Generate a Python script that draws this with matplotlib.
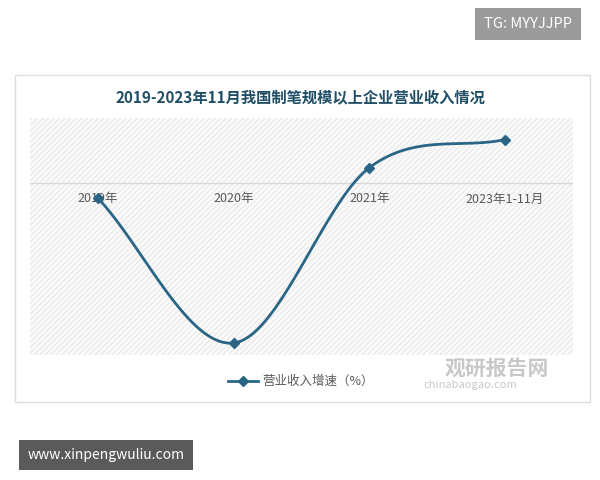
import numpy as np
import matplotlib
matplotlib.use("Agg")
import matplotlib.pyplot as plt
from matplotlib.patches import Rectangle

plt.rcParams['font.family'] = ['Noto Sans CJK SC', 'DejaVu Sans']
plt.rcParams['hatch.linewidth'] = 0.6

categories = ["2019年", "2020年", "2021年", "2023年1-11月"]
growth = [-1.9, -20.0, 1.9, 5.4]
series_name = "营业收入增速（%）"
title = "2019-2023年11月我国制笔规模以上企业营业收入情况"

fig = plt.figure(figsize=(6, 4.8), dpi=100)
fig.patch.set_facecolor("white")

fig.add_artist(Rectangle((15/600, 1-402/480), 575/600, 327/480, transform=fig.transFigure,
                         fill=False, edgecolor="#dddddd", lw=1))

ax = fig.add_axes([30/600, 1-355/480, 543/600, 237/480])
ax.set_facecolor("#fafafa")
ax.add_patch(Rectangle((0, 0), 1, 1, transform=ax.transAxes, facecolor="none",
                       hatch="//////", edgecolor="#e3e3e3", lw=0, zorder=0))
for s in ax.spines.values():
    s.set_visible(False)

x = np.arange(len(categories))
y = np.array(growth)
t = np.zeros_like(y)
t[1:-1] = (y[2:] - y[:-2]) / 2
t[0] = y[1] - y[0]
t[-1] = y[-1] - y[-2]
xs, ys = [], []
for i in range(len(x) - 1):
    u = np.linspace(0, 1, 40)
    h00 = 2*u**3 - 3*u**2 + 1; h10 = u**3 - 2*u**2 + u
    h01 = -2*u**3 + 3*u**2; h11 = u**3 - u**2
    xs.extend(x[i] + u)
    ys.extend(h00*y[i] + h10*t[i] + h01*y[i+1] + h11*t[i+1])
color = "#2a6585"
ax.plot(xs, ys, color=color, lw=2, zorder=3)
ax.plot(x, y, 'D', color=color, ms=5, zorder=4)
ax.axhline(0, color="#d9d9d9", lw=1, zorder=1)
ax.set_xlim(-0.5, len(categories) - 0.5)
ax.set_ylim(-21.5, 8.1)
ax.set_yticks([])
ax.set_xticks([])
for xi, c in zip(x, categories):
    ax.text(xi, -1.2, c, ha="center", va="top", fontsize=9, color="#595959", zorder=2)

fig.text(0.5, 1-97/480, title, ha="center", va="center", fontsize=11,
         fontweight="bold", color="#1f4e66")

fig.add_artist(plt.Line2D([228/600, 258/600], [1-381/480]*2, color=color, lw=2))
fig.add_artist(plt.Line2D([243/600], [1-381/480], marker='D', color=color, ms=5))
fig.text(262/600, 1-381/480, series_name, ha="left", va="center", fontsize=9, color="#595959")

fig.text(445/600, 1-368/480, "观研报告网", ha="left", va="center", fontsize=15,
         fontweight="bold", color="#c8c8c8")
fig.text(423/600, 1-385/480, "chinabaogao.com", ha="left", va="center", fontsize=8, color="#c8c8c8")

fig.text(528/600, 1-24/480, "TG: MYYJJPP", ha="center", va="center", fontsize=10.5, color="white",
         bbox=dict(boxstyle="square,pad=0.6", facecolor="#9b9b9b", edgecolor="none"))
fig.text(106/600, 1-455/480, "www.xinpengwuliu.com", ha="center", va="center", fontsize=10,
         color="white", bbox=dict(boxstyle="square,pad=0.6", facecolor="#5a5a5a", edgecolor="none"))

fig.savefig("out.png", dpi=100)
